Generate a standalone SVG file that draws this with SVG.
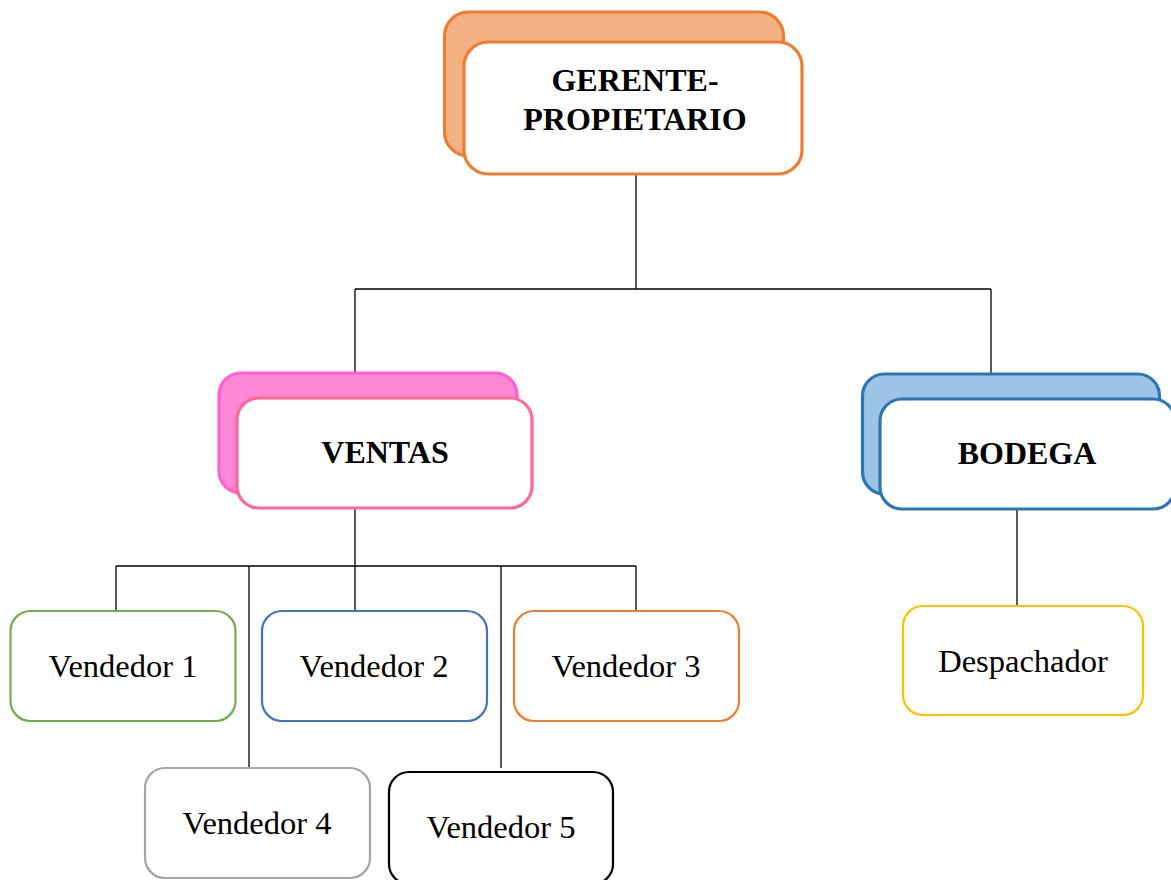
<svg xmlns="http://www.w3.org/2000/svg" width="1171" height="880" viewBox="0 0 1171 880">
<style>
.bg{fill:#fff}
.t{font-family:"Liberation Serif","Times New Roman",serif;font-size:32.5px;fill:#000;text-anchor:middle}
.b{font-weight:bold;font-size:32px}
.small{fill:#fff;stroke-width:2.2}
.big{stroke-width:3.2}
.conn line{stroke:#000;stroke-width:1.3}
</style>
<rect class="bg" width="1171" height="880"/>
<g id="connectors" class="conn">
<line x1="636" y1="174" x2="636" y2="289"/>
<line x1="355" y1="289" x2="991" y2="289"/>
<line x1="355" y1="289" x2="355" y2="373"/>
<line x1="991" y1="289" x2="991" y2="374"/>
<line x1="355" y1="508" x2="355" y2="566"/>
<line x1="116" y1="566" x2="636" y2="566"/>
<line x1="116" y1="566" x2="116" y2="611"/>
<line x1="249" y1="566" x2="249" y2="768"/>
<line x1="355" y1="566" x2="355" y2="611"/>
<line x1="501" y1="566" x2="501" y2="768"/>
<line x1="636" y1="566" x2="636" y2="611"/>
<line x1="1017" y1="508" x2="1017" y2="606"/>
</g>
<g id="gerente">
<rect class="big" x="444.5" y="12" width="339" height="144" rx="24" fill="#F4B183" stroke="#ED7D31"/>
<rect class="big" x="464" y="42" width="338" height="132" rx="24" fill="#fff" stroke="#ED7D31"/>
<text class="t b" x="635" y="91">GERENTE-</text>
<text class="t b" x="635" y="130">PROPIETARIO</text>
</g>
<g id="ventas">
<rect class="big" x="219" y="373" width="298" height="120" rx="22" fill="#FF88D6" stroke="#FF5FCF"/>
<rect class="big" x="237" y="398" width="295" height="110" rx="22" fill="#fff" stroke="#FF6699"/>
<text class="t b" x="385" y="463">VENTAS</text>
</g>
<g id="bodega">
<rect class="big" x="862.5" y="374" width="297" height="120" rx="22" fill="#9DC3E6" stroke="#2E75B6"/>
<rect class="big" x="880" y="399" width="295" height="110" rx="22" fill="#fff" stroke="#2E75B6"/>
<text class="t b" x="1027" y="464">BODEGA</text>
</g>
<g id="vendedor1">
<rect class="small" x="10.5" y="611" width="225" height="110" rx="20" stroke="#70AD47"/>
<text class="t" x="123" y="677">Vendedor 1</text>
</g>
<g id="vendedor2">
<rect class="small" x="262" y="611" width="225" height="110" rx="20" stroke="#4472C4"/>
<text class="t" x="374" y="677">Vendedor 2</text>
</g>
<g id="vendedor3">
<rect class="small" x="514" y="611" width="225" height="110" rx="20" stroke="#ED7D31"/>
<text class="t" x="626" y="677">Vendedor 3</text>
</g>
<g id="vendedor4">
<rect class="small" x="145" y="768" width="225" height="110" rx="20" stroke="#A5A5A5"/>
<text class="t" x="257" y="834">Vendedor 4</text>
</g>
<g id="vendedor5">
<rect class="small" x="389" y="772" width="224" height="112" rx="20" stroke="#000"/>
<text class="t" x="501" y="838">Vendedor 5</text>
</g>
<g id="despachador">
<rect class="small" x="903" y="606" width="240" height="109" rx="20" stroke="#FFC000"/>
<text class="t" x="1023" y="672">Despachador</text>
</g>
</svg>
